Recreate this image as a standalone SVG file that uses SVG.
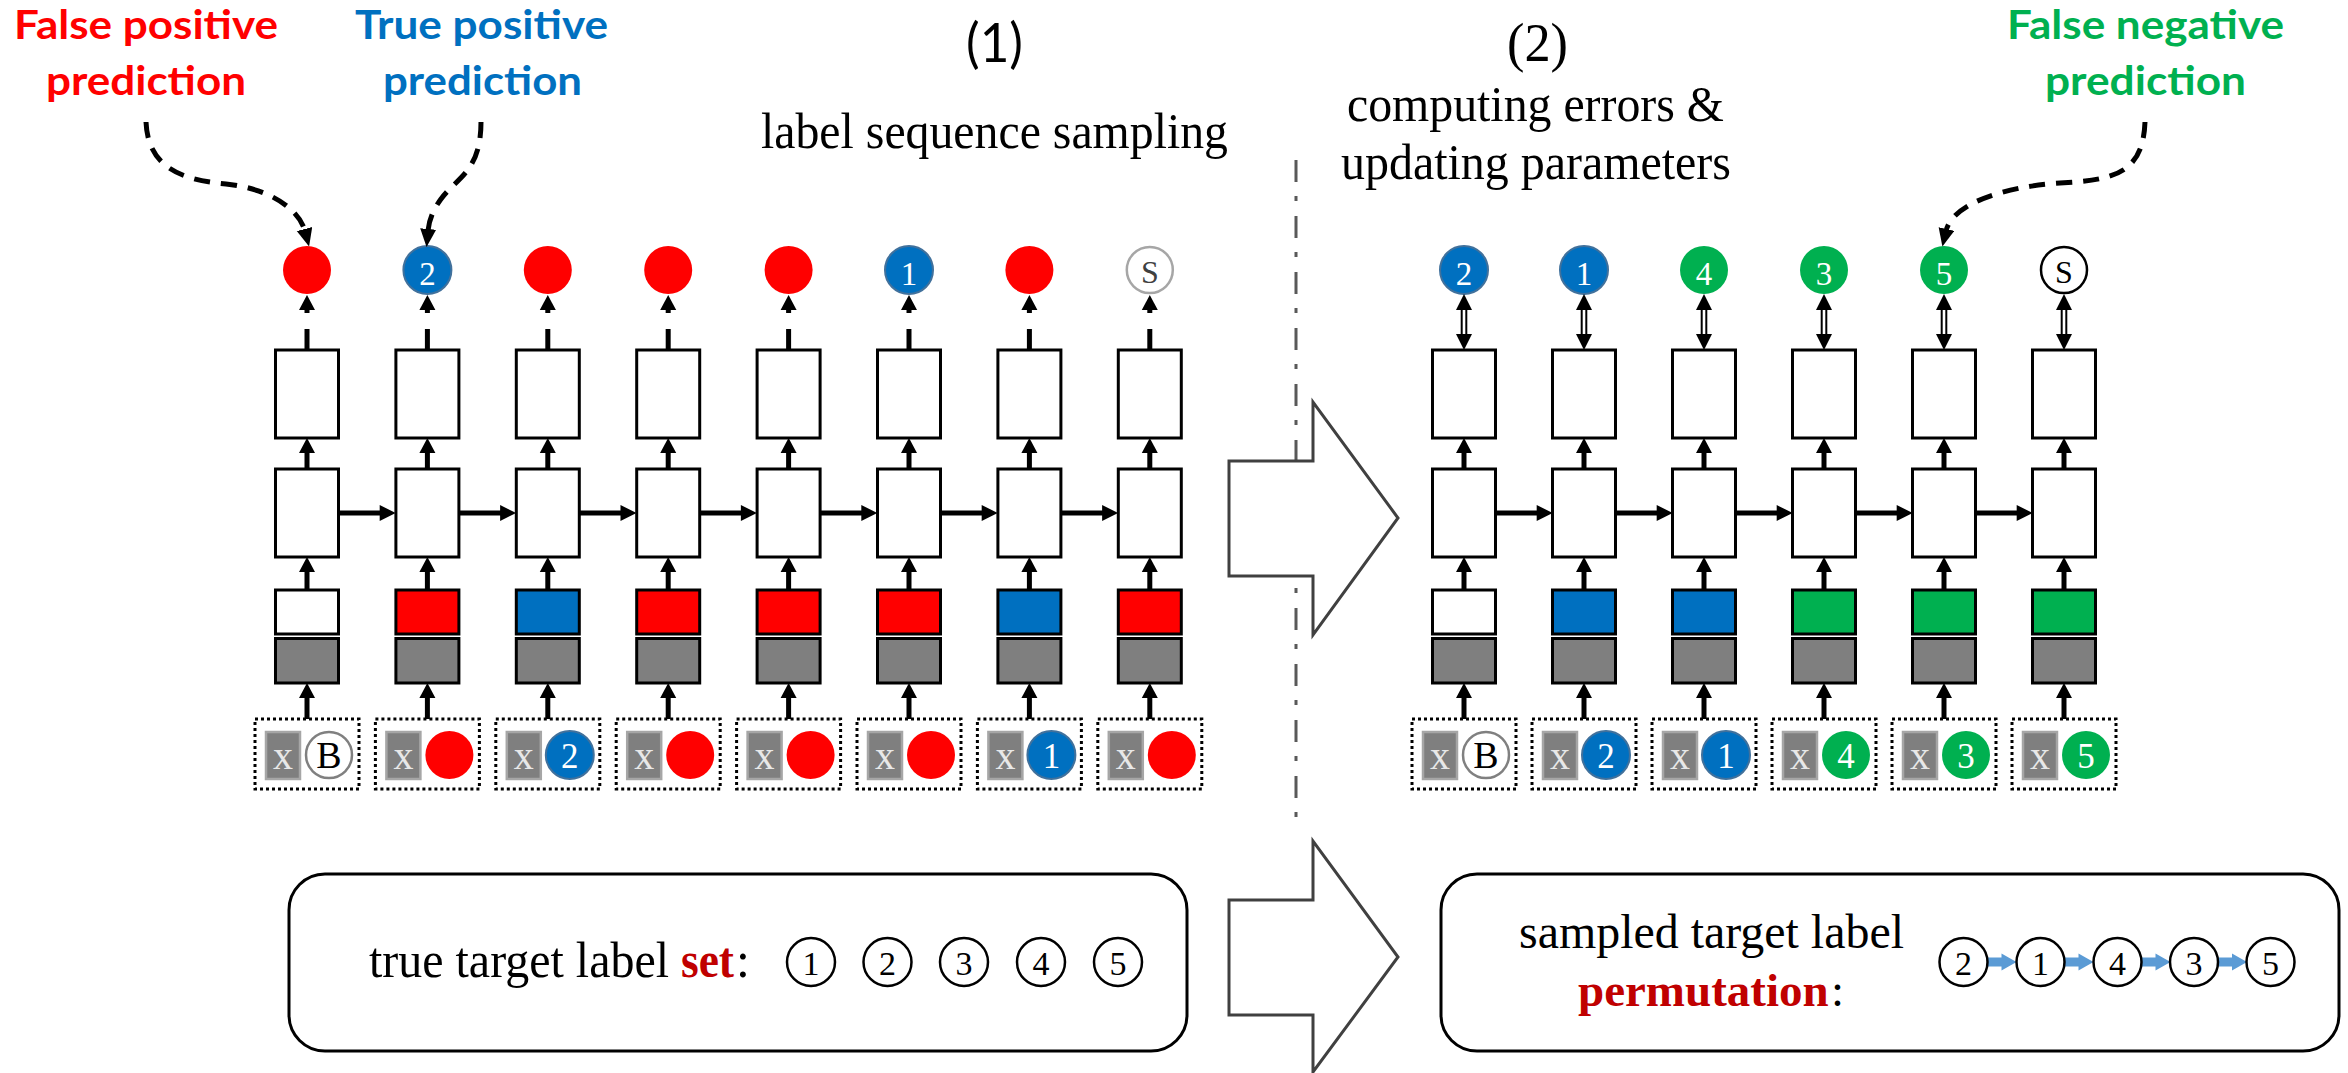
<svg xmlns="http://www.w3.org/2000/svg" width="2348" height="1073" viewBox="0 0 2348 1073">
<style>
.bx{fill:#fff;stroke:#000;stroke-width:3}
.r{fill:#FF0000}
.b{fill:#0070C0;stroke:#41719C;stroke-width:2}
.g{fill:#00B050}
.wc{fill:#fff;stroke:#A6A6A6;stroke-width:2.5}
.wk{fill:#fff;stroke:#000;stroke-width:2.5}
.d{font-family:"Liberation Serif","Times New Roman",serif;text-anchor:middle}
.dw{fill:#fff;font-size:33px}
.di{fill:#fff;font-size:35px}
.lab{font-family:Lato,"Liberation Sans",sans-serif;font-weight:bold;font-size:41px}
.ser{font-family:"Liberation Serif","Times New Roman",serif;font-size:50px;fill:#000}
.ln{stroke:#000;stroke-width:5;fill:none}
.dash{stroke:#000;stroke-width:5;fill:none;stroke-dasharray:16 11}
.big{fill:#fff;stroke:#404040;stroke-width:3}
.rb{fill:#fff;stroke:#000;stroke-width:3}
.sc{fill:#fff;stroke:#000;stroke-width:2.5}
.sd{font-family:"Liberation Serif","Times New Roman",serif;font-size:34px;text-anchor:middle;fill:#000}
.em{font-weight:bold;fill:#C00000}
</style>
<defs>
<marker id="mk" markerWidth="20" markerHeight="18" refX="2" refY="8" orient="auto" markerUnits="userSpaceOnUse"><path d="M0,0 L18,8 L0,16 z" fill="#000"/></marker>
<polygon id="hu" points="0,0 8,15 -8,15" fill="#000"/>
<polygon id="hr" points="0,0 -16,-8 -16,8" fill="#000"/>
<polygon id="ba" points="0,-4.5 14,-4.5 14,-8.5 29,0 14,8.5 14,4.5 0,4.5" fill="#5B9BD5"/>
<g id="cell">
 <rect x="-31.5" y="350" width="63" height="88" fill="#fff" stroke="#000" stroke-width="3"/>
 <rect x="-31.5" y="469" width="63" height="88" fill="#fff" stroke="#000" stroke-width="3"/>
 <rect x="-31.5" y="638.5" width="63" height="44.5" fill="#7F7F7F" stroke="#000" stroke-width="3"/>
 <rect x="-52" y="719" width="104" height="70" fill="none" stroke="#000" stroke-width="3" stroke-dasharray="3 3"/>
 <rect x="-41" y="732" width="34" height="47" fill="#7F7F7F" stroke="#A6A6A6" stroke-width="2.5"/>
 <text x="-24" y="769" font-family="Liberation Serif, serif" font-size="40" fill="#E8E8E8" text-anchor="middle">x</text>
</g>
<g id="vstack" stroke="#000" stroke-width="5">
 <line x1="0" y1="719" x2="0" y2="696"/>
 <use href="#hu" y="683" stroke="none"/>
 <line x1="0" y1="590" x2="0" y2="570"/>
 <use href="#hu" y="557" stroke="none"/>
 <line x1="0" y1="469" x2="0" y2="451"/>
 <use href="#hu" y="438" stroke="none"/>
</g>
<g id="topL" stroke="#000" stroke-width="5">
 <line x1="0" y1="350" x2="0" y2="329"/>
 <line x1="0" y1="313" x2="0" y2="306"/>
 <use href="#hu" y="295" stroke="none"/>
</g>
<g id="topR">
 <line x1="-2.3" y1="308" x2="-2.3" y2="336" stroke="#000" stroke-width="2"/>
 <line x1="2.3" y1="308" x2="2.3" y2="336" stroke="#000" stroke-width="2"/>
 <polygon points="0,294 8,310 -8,310" fill="#000"/>
 <polygon points="0,350 8,334 -8,334" fill="#000"/>
</g>
<g id="hz" stroke="#000" stroke-width="5">
 <line x1="31.5" y1="513" x2="74" y2="513"/>
 <use href="#hr" x="88.7" y="513" stroke="none"/>
</g>
</defs>

<g id="titles">
 <text x="14" y="39" class="lab" fill="#FF0000" textLength="264" lengthAdjust="spacingAndGlyphs">False positive</text>
 <text x="46" y="95" class="lab" fill="#FF0000" textLength="200" lengthAdjust="spacingAndGlyphs">prediction</text>
 <text x="355" y="39" class="lab" fill="#0070C0" textLength="253" lengthAdjust="spacingAndGlyphs">True positive</text>
 <text x="383" y="95" class="lab" fill="#0070C0" textLength="199" lengthAdjust="spacingAndGlyphs">prediction</text>
 <text x="2007" y="39" class="lab" fill="#00B050" textLength="277" lengthAdjust="spacingAndGlyphs">False negative</text>
 <text x="2045" y="95" class="lab" fill="#00B050" textLength="201" lengthAdjust="spacingAndGlyphs">prediction</text>
 <text x="966" y="62" font-family="Lato, 'Liberation Sans', sans-serif" font-size="54" fill="#000" textLength="57" lengthAdjust="spacingAndGlyphs">(1)</text>
 <text x="761" y="148" class="ser" textLength="467" lengthAdjust="spacingAndGlyphs">label sequence sampling</text>
 <text x="1507" y="61" class="ser" style="font-size:54px" textLength="61" lengthAdjust="spacingAndGlyphs">(2)</text>
 <text x="1347" y="121" class="ser" textLength="377" lengthAdjust="spacingAndGlyphs">computing errors &amp;</text>
 <text x="1341" y="179" class="ser" textLength="390" lengthAdjust="spacingAndGlyphs">updating parameters</text>
</g>

<g id="separator">
 <line x1="1296" y1="160" x2="1296" y2="828" stroke="#595959" stroke-width="3" stroke-dasharray="22 14 5 15"/>
</g>
<g id="bigArrowTop"><polygon class="big" points="1229,461 1313,461 1313,402 1398,518 1313,635 1313,576 1229,576"/></g>
<g id="bigArrowBottom"><polygon class="big" points="1229,900 1313,900 1313,841 1398,957 1313,1072 1313,1015 1229,1015"/></g>

<g id="L1" transform="translate(307,0)">
 <use href="#cell"/>
 <circle cx="0" cy="270" r="24" class="r"/>
 <rect x="-31.5" y="590" width="63" height="44" class="bx"/>
 <circle cx="22" cy="755" r="23" class="wc" style="stroke:#808080"/>
 <text x="22" y="768" class="d" font-size="38" fill="#000">B</text>
</g>
<g id="L2" transform="translate(427.4,0)">
 <use href="#cell"/>
 <circle cx="0" cy="270" r="24" class="b"/>
 <text x="0" y="285" class="d dw">2</text>
 <rect x="-31.5" y="590" width="63" height="44" class="bx" style="fill:#FF0000"/>
 <circle cx="22" cy="755" r="24" class="r"/>
</g>
<g id="L3" transform="translate(547.8,0)">
 <use href="#cell"/>
 <circle cx="0" cy="270" r="24" class="r"/>
 <rect x="-31.5" y="590" width="63" height="44" class="bx" style="fill:#0070C0"/>
 <circle cx="22" cy="755" r="24" class="b"/>
 <text x="22" y="768" class="d di">2</text>
</g>
<g id="L4" transform="translate(668.2,0)">
 <use href="#cell"/>
 <circle cx="0" cy="270" r="24" class="r"/>
 <rect x="-31.5" y="590" width="63" height="44" class="bx" style="fill:#FF0000"/>
 <circle cx="22" cy="755" r="24" class="r"/>
</g>
<g id="L5" transform="translate(788.6,0)">
 <use href="#cell"/>
 <circle cx="0" cy="270" r="24" class="r"/>
 <rect x="-31.5" y="590" width="63" height="44" class="bx" style="fill:#FF0000"/>
 <circle cx="22" cy="755" r="24" class="r"/>
</g>
<g id="L6" transform="translate(909,0)">
 <use href="#cell"/>
 <circle cx="0" cy="270" r="24" class="b"/>
 <text x="0" y="285" class="d dw">1</text>
 <rect x="-31.5" y="590" width="63" height="44" class="bx" style="fill:#FF0000"/>
 <circle cx="22" cy="755" r="24" class="r"/>
</g>
<g id="L7" transform="translate(1029.4,0)">
 <use href="#cell"/>
 <circle cx="0" cy="270" r="24" class="r"/>
 <rect x="-31.5" y="590" width="63" height="44" class="bx" style="fill:#0070C0"/>
 <circle cx="22" cy="755" r="24" class="b"/>
 <text x="22" y="768" class="d di">1</text>
</g>
<g id="L8" transform="translate(1149.8,0)">
 <use href="#cell"/>
 <circle cx="0" cy="270" r="23" class="wc"/>
 <text x="0" y="283" class="d" font-size="32" fill="#404040">S</text>
 <rect x="-31.5" y="590" width="63" height="44" class="bx" style="fill:#FF0000"/>
 <circle cx="22" cy="755" r="24" class="r"/>
</g>

<g id="R1" transform="translate(1464,0)">
 <use href="#cell"/>
 <circle cx="0" cy="270" r="24" class="b"/>
 <text x="0" y="285" class="d dw">2</text>
 <rect x="-31.5" y="590" width="63" height="44" class="bx"/>
 <circle cx="22" cy="755" r="23" class="wc" style="stroke:#808080"/>
 <text x="22" y="768" class="d" font-size="38" fill="#000">B</text>
</g>
<g id="R2" transform="translate(1584,0)">
 <use href="#cell"/>
 <circle cx="0" cy="270" r="24" class="b"/>
 <text x="0" y="285" class="d dw">1</text>
 <rect x="-31.5" y="590" width="63" height="44" class="bx" style="fill:#0070C0"/>
 <circle cx="22" cy="755" r="24" class="b"/>
 <text x="22" y="768" class="d di">2</text>
</g>
<g id="R3" transform="translate(1704,0)">
 <use href="#cell"/>
 <circle cx="0" cy="270" r="24" class="g"/>
 <text x="0" y="285" class="d dw">4</text>
 <rect x="-31.5" y="590" width="63" height="44" class="bx" style="fill:#0070C0"/>
 <circle cx="22" cy="755" r="24" class="b"/>
 <text x="22" y="768" class="d di">1</text>
</g>
<g id="R4" transform="translate(1824,0)">
 <use href="#cell"/>
 <circle cx="0" cy="270" r="24" class="g"/>
 <text x="0" y="285" class="d dw">3</text>
 <rect x="-31.5" y="590" width="63" height="44" class="bx" style="fill:#00B050"/>
 <circle cx="22" cy="755" r="24" class="g"/>
 <text x="22" y="768" class="d di">4</text>
</g>
<g id="R5" transform="translate(1944,0)">
 <use href="#cell"/>
 <circle cx="0" cy="270" r="24" class="g"/>
 <text x="0" y="285" class="d dw">5</text>
 <rect x="-31.5" y="590" width="63" height="44" class="bx" style="fill:#00B050"/>
 <circle cx="22" cy="755" r="24" class="g"/>
 <text x="22" y="768" class="d di">3</text>
</g>
<g id="R6" transform="translate(2064,0)">
 <use href="#cell"/>
 <circle cx="0" cy="270" r="23" class="wk"/>
 <text x="0" y="283" class="d" font-size="32" fill="#000">S</text>
 <rect x="-31.5" y="590" width="63" height="44" class="bx" style="fill:#00B050"/>
 <circle cx="22" cy="755" r="24" class="g"/>
 <text x="22" y="768" class="d di">5</text>
</g>

<g id="setBox">
 <rect x="289" y="874" width="898" height="177" rx="36" class="rb"/>
 <text x="369" y="977" class="ser" textLength="300" lengthAdjust="spacingAndGlyphs">true target label</text>
 <text x="681" y="977" class="ser em" textLength="53" lengthAdjust="spacingAndGlyphs">set</text>
 <text x="736" y="977" class="ser">:</text>
 <circle cx="811" cy="962" r="24" class="sc"/><text x="811" y="975" class="sd">1</text>
 <circle cx="887.5" cy="962" r="24" class="sc"/><text x="887.5" y="975" class="sd">2</text>
 <circle cx="964" cy="962" r="24" class="sc"/><text x="964" y="975" class="sd">3</text>
 <circle cx="1041" cy="962" r="24" class="sc"/><text x="1041" y="975" class="sd">4</text>
 <circle cx="1118" cy="962" r="24" class="sc"/><text x="1118" y="975" class="sd">5</text>
</g>
<g id="permBox">
 <rect x="1441" y="874" width="898" height="177" rx="36" class="rb"/>
 <text x="1519" y="948" class="ser" style="font-size:48px" textLength="385" lengthAdjust="spacingAndGlyphs">sampled target label</text>
 <text x="1578" y="1006" class="ser em" style="font-size:47px">permutation</text>
 <text x="1831" y="1006" class="ser" style="font-size:47px">:</text>
 <use href="#ba" x="1987.5" y="962"/>
 <use href="#ba" x="2064.5" y="962"/>
 <use href="#ba" x="2141.5" y="962"/>
 <use href="#ba" x="2218" y="962"/>
 <circle cx="1963.5" cy="962" r="24" class="sc"/><text x="1963.5" y="975" class="sd">2</text>
 <circle cx="2040.5" cy="962" r="24" class="sc"/><text x="2040.5" y="975" class="sd">1</text>
 <circle cx="2117.5" cy="962" r="24" class="sc"/><text x="2117.5" y="975" class="sd">4</text>
 <circle cx="2194" cy="962" r="24" class="sc"/><text x="2194" y="975" class="sd">3</text>
 <circle cx="2270.5" cy="962" r="24" class="sc"/><text x="2270.5" y="975" class="sd">5</text>
</g>

<g id="connectors">
 <path class="dash" d="M146,122 C148,168 182,180 226,184 C274,189 300,212 305,231" marker-end="url(#mk)"/>
 <path class="dash" d="M481,122 C481,172 456,178 441,199 C433,210 429,220 428,231" marker-end="url(#mk)"/>
 <path class="dash" d="M2145,122 C2143,176 2110,180 2060,183 C2000,187 1952,205 1946,231" marker-end="url(#mk)"/>
 <g transform="translate(307,0)"><use href="#vstack"/><use href="#topL"/><use href="#hz"/></g>
 <g transform="translate(427.4,0)"><use href="#vstack"/><use href="#topL"/><use href="#hz"/></g>
 <g transform="translate(547.8,0)"><use href="#vstack"/><use href="#topL"/><use href="#hz"/></g>
 <g transform="translate(668.2,0)"><use href="#vstack"/><use href="#topL"/><use href="#hz"/></g>
 <g transform="translate(788.6,0)"><use href="#vstack"/><use href="#topL"/><use href="#hz"/></g>
 <g transform="translate(909,0)"><use href="#vstack"/><use href="#topL"/><use href="#hz"/></g>
 <g transform="translate(1029.4,0)"><use href="#vstack"/><use href="#topL"/><use href="#hz"/></g>
 <g transform="translate(1149.8,0)"><use href="#vstack"/><use href="#topL"/></g>
 <g transform="translate(1464,0)"><use href="#vstack"/><use href="#topR"/><use href="#hz"/></g>
 <g transform="translate(1584,0)"><use href="#vstack"/><use href="#topR"/><use href="#hz"/></g>
 <g transform="translate(1704,0)"><use href="#vstack"/><use href="#topR"/><use href="#hz"/></g>
 <g transform="translate(1824,0)"><use href="#vstack"/><use href="#topR"/><use href="#hz"/></g>
 <g transform="translate(1944,0)"><use href="#vstack"/><use href="#topR"/><use href="#hz"/></g>
 <g transform="translate(2064,0)"><use href="#vstack"/><use href="#topR"/></g>
</g>
</svg>
